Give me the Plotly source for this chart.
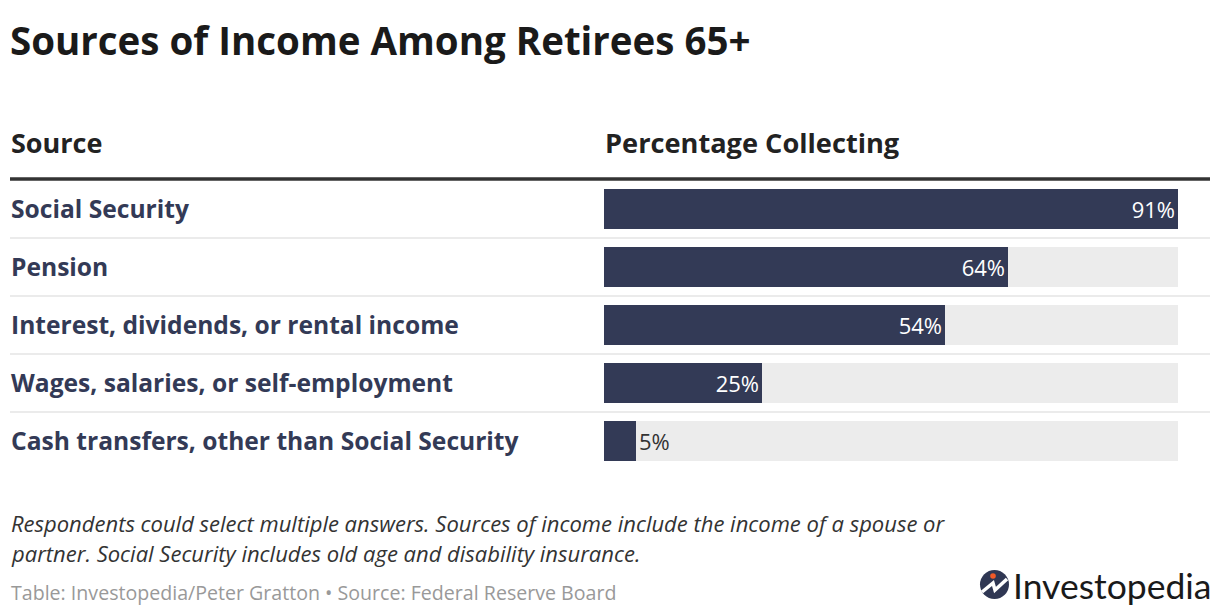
import plotly.graph_objects as go

categories = [
    "Social Security",
    "Pension",
    "Interest, dividends, or rental income",
    "Wages, salaries, or self-employment",
    "Cash transfers, other than Social Security",
]
values = [91, 64, 54, 25, 5]
value_labels = ["91%", "64%", "54%", "25%", "5%"]
scale_max = 91

title_text = "Sources of Income Among Retirees 65+"
col_headers = ["Source", "Percentage Collecting"]
note_lines = [
    "Respondents could select multiple answers. Sources of income include the income of a spouse or",
    "partner. Social Security includes old age and disability insurance.",
]
source_text = "Table: Investopedia/Peter Gratton \u2022 Source: Federal Reserve Board"

W, H = 1220, 616
FONT = "Open Sans"
NAVY = "#333a56"

def px(x):
    return x / W

def py(y):
    return 1 - y / H

rows = list(range(len(categories)))

fig = go.Figure()
fig.add_trace(go.Bar(
    y=rows, x=[scale_max] * len(rows), orientation="h",
    marker=dict(color="#ececec", line=dict(width=0)),
    width=0.69, hoverinfo="skip", showlegend=False,
))
positions = ["inside" if v >= 15 else "outside" for v in values]
fig.add_trace(go.Bar(
    y=rows, x=values, orientation="h",
    marker=dict(color=NAVY, line=dict(width=0)),
    width=0.69, text=value_labels, textposition=positions,
    insidetextanchor="end", textangle=0, constraintext="none",
    insidetextfont=dict(family=FONT, size=22, color="white"),
    outsidetextfont=dict(family=FONT, size=22, color="#333333"),
    cliponaxis=False, showlegend=False,
))

fig.update_layout(
    width=W, height=H, margin=dict(l=0, r=0, t=0, b=0),
    paper_bgcolor="white", plot_bgcolor="white",
    barmode="overlay", bargap=0,
    xaxis=dict(domain=[px(604), px(1178)], range=[0, scale_max], visible=False, fixedrange=True),
    yaxis=dict(domain=[py(470), py(180)], range=[4.5, -0.5], visible=False, fixedrange=True),
    font=dict(family=FONT),
)

shapes = []
shapes.append(dict(type="line", xref="paper", yref="paper", x0=px(10), x1=px(1210),
                   y0=py(179), y1=py(179), line=dict(color="#333333", width=3.5)))
for i in range(len(rows) - 1):
    shapes.append(dict(type="line", xref="paper", yref="y", x0=px(10), x1=px(1210),
                       y0=i + 0.5, y1=i + 0.5, line=dict(color="#ebebeb", width=2)))

cx, cy, r = 994.5, 584.5, 14.5
shapes.append(dict(type="circle", xref="paper", yref="paper",
                   x0=px(cx - r), x1=px(cx + r), y0=py(cy + r), y1=py(cy - r),
                   fillcolor="#2f3753", line=dict(width=0)))
path = "M {},{} L {},{} L {},{} L {},{}".format(
    px(982), py(592), px(993), py(583), px(995), py(590), px(1007), py(579))
shapes.append(dict(type="path", xref="paper", yref="paper", path=path,
                   line=dict(color="white", width=3.5)))
dr = 2.8
shapes.append(dict(type="circle", xref="paper", yref="paper",
                   x0=px(993 - dr), x1=px(993 + dr), y0=py(576 + dr), y1=py(576 - dr),
                   fillcolor="#f05a28", line=dict(width=0)))
fig.update_layout(shapes=shapes)

ann = []
ann.append(dict(text="<b>" + title_text + "</b>", x=px(8), y=py(40), xref="paper", yref="paper",
                xanchor="left", yanchor="middle", showarrow=False,
                font=dict(family=FONT, size=38.5, color="#1a1a1a")))
ann.append(dict(text="<b>" + col_headers[0] + "</b>", x=px(9), y=py(142), xref="paper", yref="paper",
                xanchor="left", yanchor="middle", showarrow=False,
                font=dict(family=FONT, size=27, color="#222222")))
ann.append(dict(text="<b>" + col_headers[1] + "</b>", x=px(603), y=py(142), xref="paper", yref="paper",
                xanchor="left", yanchor="middle", showarrow=False,
                font=dict(family=FONT, size=27.2, color="#222222")))
for i, c in enumerate(categories):
    ann.append(dict(text="<b>" + c + "</b>", x=px(9), y=i, xref="paper", yref="y",
                    xanchor="left", yanchor="middle", showarrow=False,
                    font=dict(family=FONT, size=24.6, color=NAVY)))
for j, line in enumerate(note_lines):
    ann.append(dict(text="<i>" + line + "</i>", x=px(9), y=py(523 + 30 * j), xref="paper", yref="paper",
                    xanchor="left", yanchor="middle", showarrow=False,
                    font=dict(family=FONT, size=22, color="#333333")))
ann.append(dict(text=source_text, x=px(9), y=py(592), xref="paper", yref="paper",
                xanchor="left", yanchor="middle", showarrow=False,
                font=dict(family=FONT, size=19.6, color="#999999")))
ann.append(dict(text="Investopedia", x=px(1011), y=py(585), xref="paper", yref="paper",
                xanchor="left", yanchor="middle", showarrow=False,
                font=dict(family="Lato", size=35.5, color="#1a1a1a")))
fig.update_layout(annotations=ann)

fig.write_html("out.html", config={"displayModeBar": False},
               post_script="document.body.style.margin='0';document.body.style.padding='0';")
